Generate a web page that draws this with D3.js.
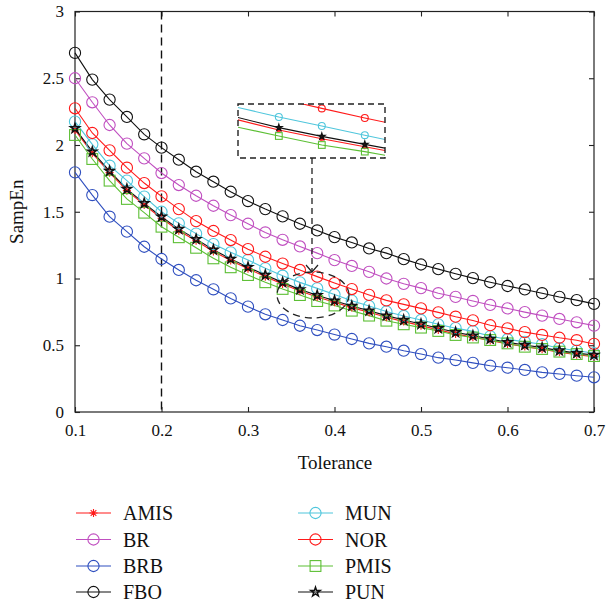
<!DOCTYPE html>
<html>
<head>
<meta charset="utf-8">
<script src="https://cdn.jsdelivr.net/npm/d3@7"></script>
<style>
  html, body { margin: 0; padding: 0; background: #fff; }
  svg { display: block; }
  text { font-family: "Liberation Serif", "DejaVu Serif", serif; fill: #111; }
</style>
</head>
<body>
<svg id="chart" width="606" height="605"></svg>
<script>
// Tolerance values (x) and sample entropy for each method
const tolerance = [0.10,0.12,0.14,0.16,0.18,0.20,0.22,0.24,0.26,0.28,0.30,0.32,0.34,0.36,0.38,0.40,
                   0.42,0.44,0.46,0.48,0.50,0.52,0.54,0.56,0.58,0.60,0.62,0.64,0.66,0.68,0.70];

const amis = [2.113,1.938,1.793,1.658,1.551,1.451,1.358,1.283,1.203,1.135,1.073,1.014,0.959,0.906,0.862,0.822,
              0.782,0.747,0.710,0.677,0.647,0.615,0.585,0.560,0.535,0.510,0.490,0.470,0.448,0.429,0.415];
const br   = [2.500,2.320,2.150,2.010,1.900,1.790,1.700,1.620,1.545,1.475,1.410,1.345,1.290,1.240,1.190,1.138,
              1.094,1.050,1.000,0.960,0.928,0.890,0.862,0.832,0.802,0.776,0.748,0.722,0.697,0.672,0.647];
const brb  = [1.795,1.625,1.463,1.351,1.238,1.146,1.064,0.987,0.919,0.851,0.789,0.732,0.689,0.646,0.614,0.580,
              0.547,0.514,0.489,0.459,0.434,0.407,0.389,0.368,0.347,0.332,0.315,0.297,0.285,0.272,0.260];
const fbo  = [2.690,2.490,2.340,2.210,2.080,1.980,1.890,1.800,1.725,1.650,1.580,1.520,1.465,1.410,1.360,1.310,
              1.270,1.225,1.190,1.145,1.105,1.070,1.035,1.003,0.972,0.944,0.918,0.890,0.862,0.838,0.810];
const mun  = [2.175,2.005,1.845,1.733,1.613,1.500,1.413,1.336,1.258,1.196,1.139,1.076,1.021,0.971,0.926,0.880,
              0.834,0.794,0.753,0.719,0.689,0.657,0.628,0.604,0.567,0.545,0.525,0.508,0.478,0.460,0.440];
const nor  = [2.275,2.090,1.960,1.830,1.715,1.615,1.520,1.430,1.356,1.288,1.220,1.163,1.112,1.064,1.014,0.966,
              0.921,0.877,0.836,0.806,0.776,0.746,0.714,0.686,0.650,0.627,0.598,0.577,0.556,0.538,0.510];
const pmis = [2.075,1.895,1.733,1.596,1.493,1.388,1.309,1.230,1.151,1.084,1.026,0.972,0.922,0.876,0.831,0.798,
              0.759,0.722,0.684,0.657,0.632,0.607,0.577,0.558,0.539,0.514,0.489,0.472,0.452,0.434,0.419];
const pun  = [2.125,1.950,1.805,1.670,1.563,1.463,1.370,1.295,1.215,1.147,1.085,1.026,0.971,0.918,0.874,0.834,
              0.794,0.759,0.722,0.689,0.659,0.627,0.597,0.572,0.547,0.522,0.502,0.482,0.460,0.441,0.427];

const seriesNames = ["AMIS","BR","BRB","FBO","MUN","NOR","PMIS","PUN"];
const seriesValues = [amis, br, brb, fbo, mun, nor, pmis, pun];

const xTicks = [0.1,0.2,0.3,0.4,0.5,0.6,0.7];
const yTicks = [0,0.5,1,1.5,2,2.5,3];
const markedTolerance = 0.2;

// Per-series style: colour and marker shape
const styles = {
  AMIS: {color:"#ff1a1a", marker:"asterisk"},
  BR:   {color:"#c04fc0", marker:"circle"},
  BRB:  {color:"#2f4fbf", marker:"circle"},
  FBO:  {color:"#111111", marker:"circle"},
  MUN:  {color:"#4fc6dc", marker:"circle"},
  NOR:  {color:"#ff1a1a", marker:"circle"},
  PMIS: {color:"#5cbf34", marker:"square"},
  PUN:  {color:"#111111", marker:"star"}
};

const svg = d3.select("#chart");
const W = 606, H = 605;
svg.append("rect").attr("width", W).attr("height", H).attr("fill", "#fff");

const plot = {left: 75, right: 594, top: 11.5, bottom: 412};
const x = d3.scaleLinear().domain([0.1, 0.7]).range([plot.left, plot.right]);
const y = d3.scaleLinear().domain([0, 3]).range([plot.bottom, plot.top]);

const series = seriesNames.map((name, i) => ({
  name,
  ...styles[name],
  points: tolerance.map((t, j) => ({t, v: seriesValues[i][j]}))
}));

// Draw a marker of the given kind at (cx, cy), scale s = 1 for the main plot
function drawMarker(g, kind, color, cx, cy, s) {
  if (kind === "circle") {
    g.append("circle").attr("cx", cx).attr("cy", cy).attr("r", 5.6 * s)
      .attr("fill", "none").attr("stroke", color).attr("stroke-width", 1.1);
  } else if (kind === "square") {
    const h = 5.4 * s;
    g.append("rect").attr("x", cx - h).attr("y", cy - h).attr("width", 2 * h).attr("height", 2 * h)
      .attr("fill", "none").attr("stroke", color).attr("stroke-width", 1.1);
  } else if (kind === "star") {
    g.append("path").attr("transform", `translate(${cx},${cy})`)
      .attr("d", d3.symbol().type(d3.symbolStar).size(26 * s * s)())
      .attr("fill", "none").attr("stroke", color).attr("stroke-width", 1.5);
  } else if (kind === "asterisk") {
    const r = 4 * s;
    const p = d3.path();
    [0, 45, 90, 135].forEach(a => {
      const rad = a * Math.PI / 180;
      p.moveTo(cx - r * Math.cos(rad), cy - r * Math.sin(rad));
      p.lineTo(cx + r * Math.cos(rad), cy + r * Math.sin(rad));
    });
    g.append("path").attr("d", p.toString()).attr("stroke", color)
      .attr("stroke-width", 1.1).attr("fill", "none");
  }
}

const line = d3.line().x(d => x(d.t)).y(d => y(d.v));

// Axis box with inward ticks on all four sides
const axisG = svg.append("g");
axisG.append("rect").attr("x", plot.left).attr("y", plot.top)
  .attr("width", plot.right - plot.left).attr("height", plot.bottom - plot.top)
  .attr("fill", "none").attr("stroke", "#222").attr("stroke-width", 1.2);

const bottomAxis = axisG.append("g").attr("transform", `translate(0,${plot.bottom})`)
  .call(d3.axisBottom(x).tickValues(xTicks).tickSize(-5).tickPadding(12).tickFormat(d3.format(".1f")));
const topAxis = axisG.append("g").attr("transform", `translate(0,${plot.top})`)
  .call(d3.axisTop(x).tickValues(xTicks).tickSize(-5).tickFormat(""));
const leftAxis = axisG.append("g").attr("transform", `translate(${plot.left},0)`)
  .call(d3.axisLeft(y).tickValues(yTicks).tickSize(-5).tickPadding(11).tickFormat(d3.format("")));
const rightAxis = axisG.append("g").attr("transform", `translate(${plot.right},0)`)
  .call(d3.axisRight(y).tickValues(yTicks).tickSize(-5).tickFormat(""));

[bottomAxis, topAxis, leftAxis, rightAxis].forEach(a => {
  a.select(".domain").remove();
  a.selectAll(".tick line").attr("stroke", "#222").attr("stroke-width", 1.1);
  a.selectAll("text").attr("font-family", "Liberation Serif").attr("font-size", 17).attr("fill", "#111");
});

// Dashed marker at the chosen tolerance
svg.append("line")
  .attr("x1", x(markedTolerance)).attr("x2", x(markedTolerance))
  .attr("y1", plot.top).attr("y2", plot.bottom)
  .attr("stroke", "#111").attr("stroke-width", 1.4).attr("stroke-dasharray", "8,5");

// Curves and markers
const curves = svg.append("g");
series.forEach(s => {
  curves.append("path").datum(s.points).attr("d", line)
    .attr("fill", "none").attr("stroke", s.color).attr("stroke-width", 1.1);
});
series.forEach(s => {
  const g = curves.append("g");
  s.points.forEach(p => drawMarker(g, s.marker, s.color, x(p.t), y(p.v), 1));
});

// Magnified view of the crowded region around tolerance 0.38
const inset = {left: 238, right: 385, top: 104, bottom: 158};
const xi = d3.scaleLinear().domain([0.341, 0.4094]).range([inset.left, inset.right]);
const yi = d3.scaleLinear().domain([0.766, 1.036]).range([inset.bottom, inset.top]);
const lineInset = d3.line().x(d => xi(d.t)).y(d => yi(d.v));

svg.append("clipPath").attr("id", "insetClip").append("rect")
  .attr("x", inset.left).attr("y", inset.top)
  .attr("width", inset.right - inset.left).attr("height", inset.bottom - inset.top);

svg.append("rect").attr("x", inset.left).attr("y", inset.top)
  .attr("width", inset.right - inset.left).attr("height", inset.bottom - inset.top).attr("fill", "#fff");
const insetG = svg.append("g").attr("clip-path", "url(#insetClip)");
const insetSeries = series.filter(s => ["AMIS","MUN","NOR","PMIS","PUN"].includes(s.name));
insetSeries.forEach(s => {
  insetG.append("path").datum(s.points).attr("d", lineInset)
    .attr("fill", "none").attr("stroke", s.color).attr("stroke-width", 1.1);
});
insetSeries.forEach(s => {
  const g = insetG.append("g");
  s.points.filter(p => p.t > 0.345 && p.t < 0.405)
    .forEach(p => drawMarker(g, s.marker, s.color, xi(p.t), yi(p.v), 0.62));
});
svg.append("rect").attr("x", inset.left).attr("y", inset.top)
  .attr("width", inset.right - inset.left).attr("height", inset.bottom - inset.top)
  .attr("fill", "none").attr("stroke", "#222").attr("stroke-width", 1.4).attr("stroke-dasharray", "6,4");

// Pointer from the magnified view down to the highlighted ellipse
const pointerX = 312;
svg.append("line").attr("x1", pointerX).attr("x2", pointerX)
  .attr("y1", inset.bottom).attr("y2", 271)
  .attr("stroke", "#222").attr("stroke-width", 1.3).attr("stroke-dasharray", "6,4");
svg.append("path")
  .attr("d", `M${pointerX - 6},265 L${pointerX},272 L${pointerX + 6},265`)
  .attr("fill", "none").attr("stroke", "#222").attr("stroke-width", 1.2);
svg.append("ellipse").attr("cx", 313).attr("cy", 295).attr("rx", 36).attr("ry", 23)
  .attr("fill", "none").attr("stroke", "#222").attr("stroke-width", 1.3).attr("stroke-dasharray", "7,5");

// Axis titles
svg.append("text").attr("x", 335).attr("y", 469).attr("text-anchor", "middle")
  .attr("font-size", 19).text("Tolerance");
svg.append("text").attr("transform", `translate(23,${(plot.top + plot.bottom) / 2}) rotate(-90)`)
  .attr("text-anchor", "middle").attr("font-size", 19).text("SampEn");

// Legend in two columns
const legend = svg.append("g");
const rowY = [513, 539.5, 566, 592];
const colX = [76, 298];
series.forEach((s, i) => {
  const col = Math.floor(i / 4), row = i % 4;
  const lx = colX[col], ly = rowY[row];
  legend.append("line").attr("x1", lx).attr("x2", lx + 35).attr("y1", ly).attr("y2", ly)
    .attr("stroke", s.color).attr("stroke-width", 1.2);
  drawMarker(legend, s.marker, s.color, lx + 17.5, ly, 1);
  legend.append("text").attr("x", lx + 47).attr("y", ly + 7)
    .attr("font-size", 20).text(s.name);
});
</script>
</body>
</html>
